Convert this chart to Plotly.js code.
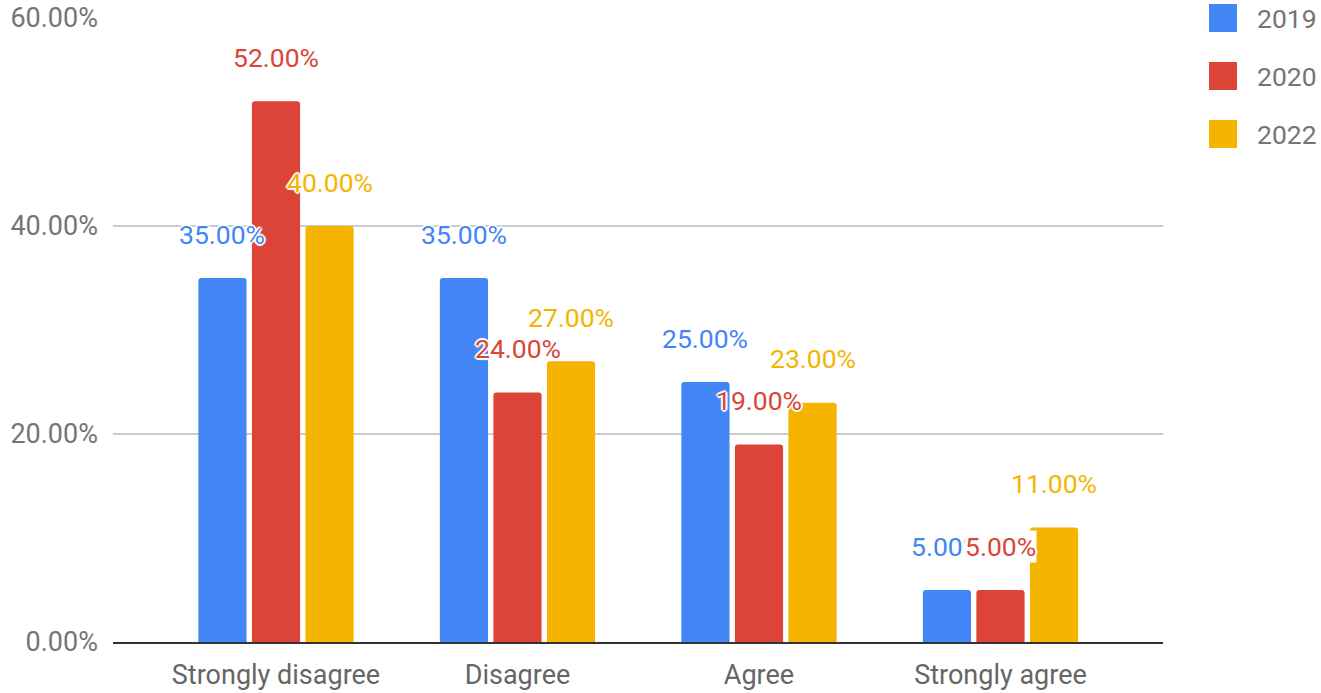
<!DOCTYPE html>
<html>
<head>
<meta charset="utf-8">
<script src="https://cdn.plot.ly/plotly-3.0.1.min.js"></script>
<style>html,body{margin:0;padding:0;background:#fff}#chart{width:1321px;height:693px}</style>
</head>
<body>
<div id="chart"></div>
<script>
const categories = ["Strongly disagree", "Disagree", "Agree", "Strongly agree"];
const seriesNames = ["2019", "2020", "2022"];
const values2019 = [0.35, 0.35, 0.25, 0.05];
const values2020 = [0.52, 0.24, 0.19, 0.05];
const values2022 = [0.40, 0.27, 0.23, 0.11];
const yTickVals = [0, 0.2, 0.4, 0.6];
const yTickText = ["0.00%", "20.00%", "40.00%", "60.00%"];

const colors = ["#4285F4", "#DB4437", "#F4B400"];
const seriesValues = [values2019, values2020, values2022];

const W = 1321, H = 693;
const margin = {l: 113, r: 158, t: 18, b: 51};
const plotW = W - margin.l - margin.r;
const plotH = H - margin.t - margin.b;
const xRange = [-0.675, 3.673];
const bargap = 0.335, bargroupgap = 0.1;
const pxPerCat = plotW / (xRange[1] - xRange[0]);
const slotPx = (1 - bargap) / seriesNames.length * pxPerCat;
const FONT = "Roboto, Arial, sans-serif";
const halo = "2px 0 1px #fff, -2px 0 1px #fff, 0 2px 1px #fff, 0 -2px 1px #fff, 1px 1px 1px #fff, -1px -1px 1px #fff, 1px -1px 1px #fff, -1px 1px 1px #fff";

const traces = seriesNames.map((name, i) => ({
  type: "bar",
  name: name,
  x: categories,
  y: seriesValues[i],
  marker: {color: colors[i]},
  hoverinfo: "skip"
}));

// data labels
const annotations = [];
const placed = [];
categories.forEach((cat, c) => {
  seriesNames.forEach((name, i) => {
    const v = seriesValues[i][c];
    const xs = (i - 1) * slotPx;
    const yPx = plotH * (v / 0.6);
    let overlap = placed.some(p => p.c === c && Math.abs(p.xs - xs) < 70 && Math.abs(p.y - yPx) < 26);
    annotations.push({
      x: cat, y: v, xref: "x", yref: "y",
      text: (v * 100).toFixed(2) + "%",
      showarrow: false, xanchor: "center", yanchor: "middle",
      xshift: xs, yshift: 44,
      bgcolor: overlap ? "#fff" : "rgba(0,0,0,0)",
      borderpad: 0,
      font: {family: FONT, size: 26.5, color: colors[i], shadow: halo}
    });
    placed.push({c: c, xs: xs, y: yPx});
  });
});

// custom legend
const shapes = [];
const legX0 = (1209 - margin.l) / plotW, legX1 = (1237 - margin.l) / plotW;
const legTextX = (1255 - margin.l) / plotW;
const legRows = [18, 76, 134];
seriesNames.forEach((name, i) => {
  const cy = (H - margin.b - legRows[i]) / plotH;
  const hh = 14 / plotH;
  shapes.push({type: "rect", xref: "paper", yref: "paper", x0: legX0, x1: legX1, y0: cy - hh, y1: cy + hh,
    fillcolor: colors[i], line: {width: 0}, layer: "above"});
  annotations.push({xref: "paper", yref: "paper", x: legTextX, y: cy, text: name, showarrow: false,
    xanchor: "left", yanchor: "middle", font: {family: FONT, size: 26.5, color: "#757575"}});
});

const layout = {
  width: W, height: H,
  margin: margin,
  paper_bgcolor: "#fff", plot_bgcolor: "#fff",
  barmode: "group", bargap: bargap, bargroupgap: bargroupgap,
  barcornerradius: 3,
  showlegend: false,
  font: {family: FONT},
  xaxis: {
    type: "category", range: xRange, showgrid: false, zeroline: false,
    showline: true, linecolor: "#333", linewidth: 2,
    ticks: "", ticklabelstandoff: 8,
    tickfont: {family: FONT, size: 27, color: "#666"}
  },
  yaxis: {
    range: [0, 0.6], tickvals: yTickVals, ticktext: yTickText,
    showgrid: true, gridcolor: "#ccc", gridwidth: 2,
    zeroline: false, showline: false, ticks: "", ticklabelstandoff: 14,
    tickfont: {family: FONT, size: 27, color: "#757575"}
  },
  shapes: shapes,
  annotations: annotations
};

Plotly.newPlot("chart", traces, layout, {displayModeBar: false, staticPlot: true});
</script>
</body>
</html>
